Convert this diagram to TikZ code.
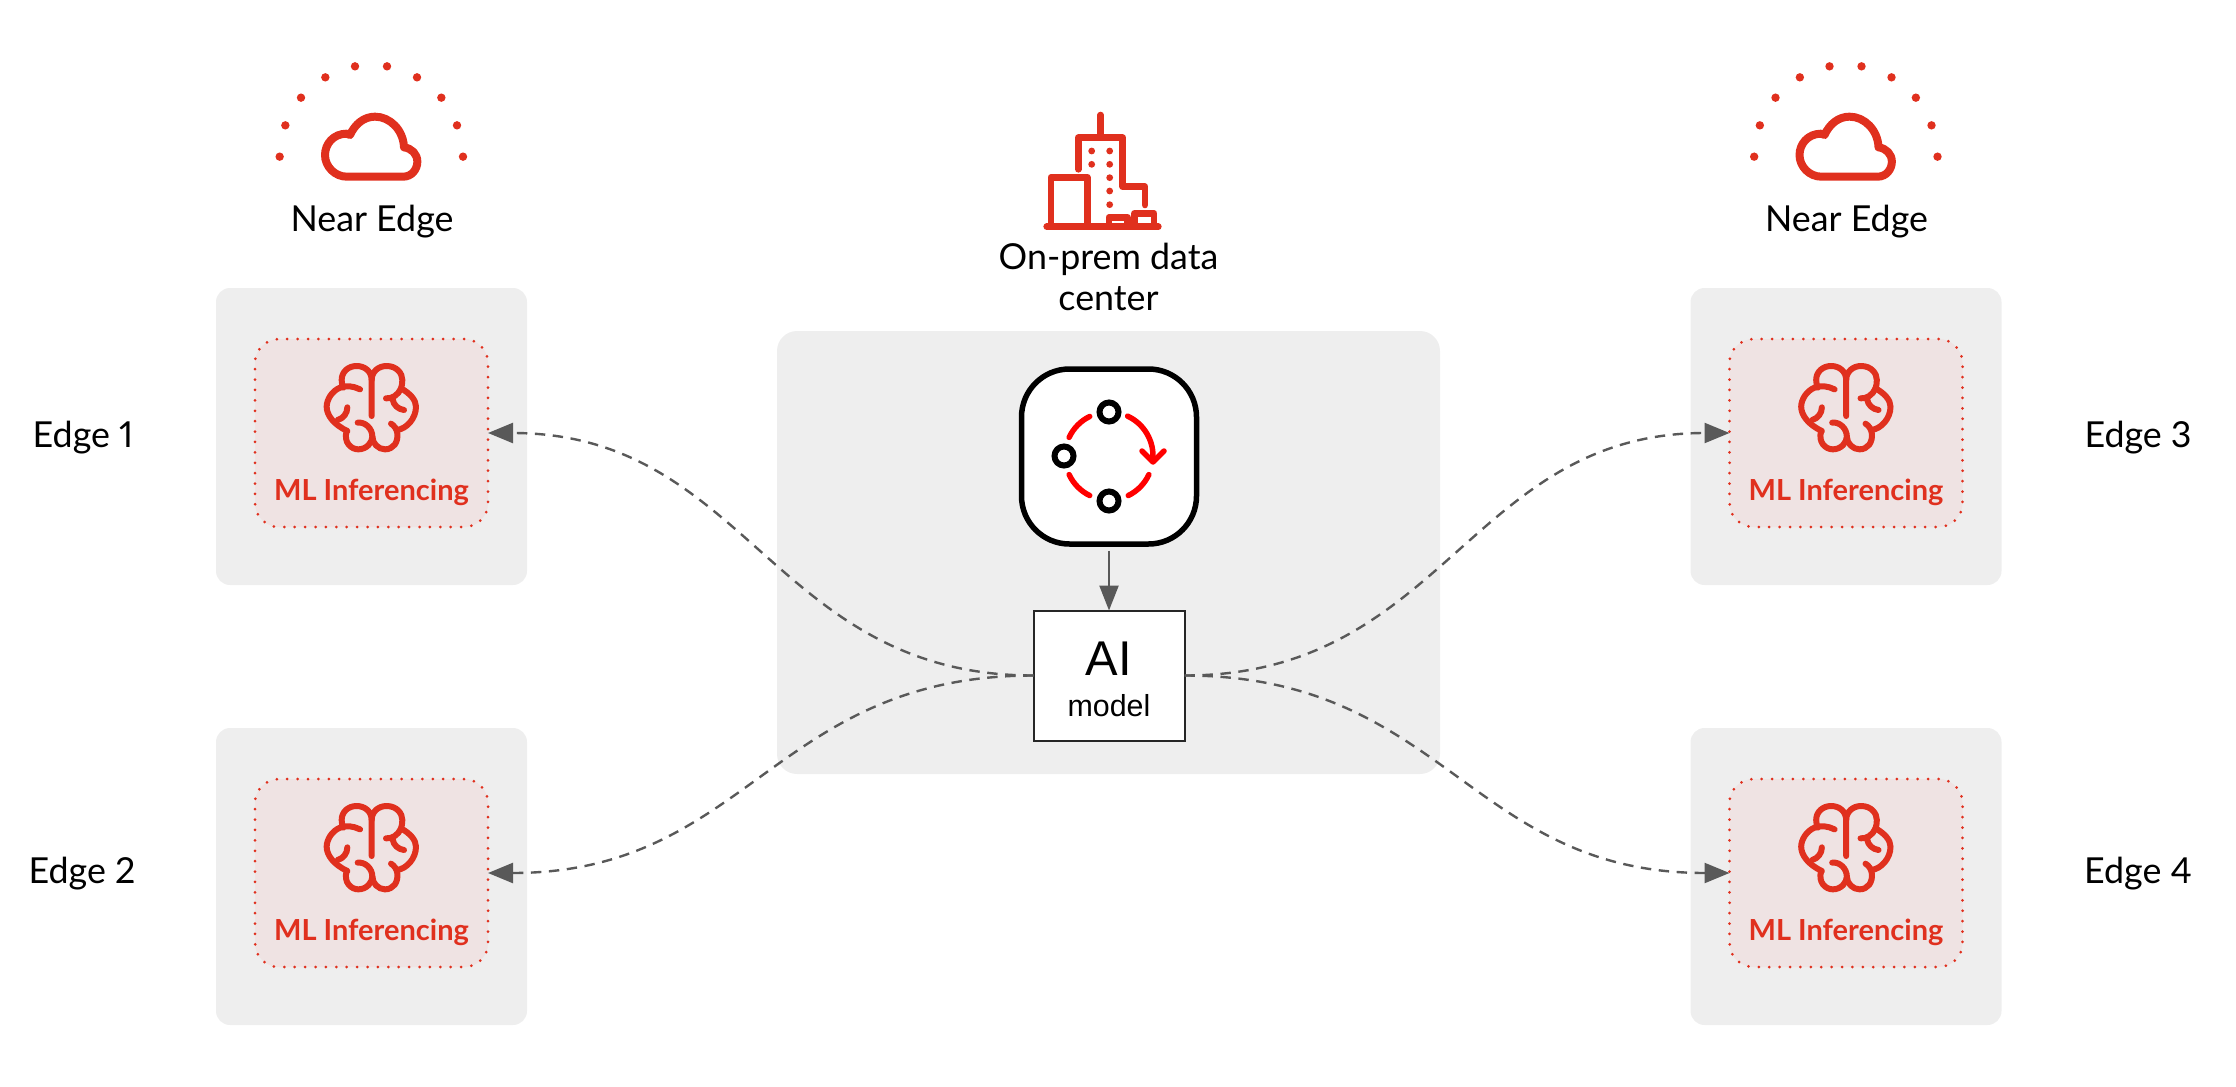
\documentclass[tikz,border=0pt]{standalone}
\usepackage{fontspec}
\setmainfont[Numbers=Proportional]{Lato}
\newfontfamily\arialfont{Liberation Sans}
\usetikzlibrary{arrows.meta}
\definecolor{rhred}{HTML}{E0301E}
\definecolor{panelgray}{HTML}{EEEEEE}
\definecolor{innerpink}{HTML}{EFE3E3}
\definecolor{linegray}{HTML}{595959}
\tikzset{
  panelbox/.style={fill=panelgray,draw=none,rounded corners=7pt,inner sep=0pt,outer sep=0pt},
  infbox/.style={fill=innerpink,draw=rhred,line width=1.5pt,line cap=round,dash pattern=on 0pt off 5.2pt,rounded corners=12pt,minimum width=116.5pt,minimum height=94pt,inner sep=0pt,outer sep=0pt},
  iconline/.style={draw=rhred,line cap=round,line join=round},
  widelabel/.style={font=\fontsize{17.9pt}{20.5pt}\selectfont,text=black,inner sep=0pt},
  inftext/.style={font=\fontsize{14.5pt}{17pt}\selectfont\bfseries,text=rhred,inner sep=0pt},
  flow/.style={draw=linegray,line width=1.2pt,dash pattern=on 5.2pt off 3.8pt,-{Triangle[length=12.5pt,width=10pt,fill=linegray]}},
  ringarc/.style={draw=red,line width=2.75pt,line cap=round,line join=round},
  ringnode/.style={circle,draw=black,fill=white,line width=3pt,minimum size=9.5pt,inner sep=0pt,outer sep=0pt},
}
% panel with inference box and brain
\newcommand{\infpanel}[3]{%
  \begin{scope}[shift={(#2,#3)}]
    \node[panelbox,minimum width=155.5pt,minimum height=148.5pt] (#1-panel) at (371.5,436.5) {};
    \node[infbox] (#1) at (371.5,433) {};
    \begin{scope}[shift={(315,355)},x=0.16667pt,y=-0.16667pt,iconline,line width=3pt]
      \draw (170,183) -- (170,75) .. controls (170,50) and (150,33) .. (125,33) .. controls (100,33) and (80,50) .. (80,75) .. controls (80,85) and (82,92) .. (85,98);
      \draw (135,103) .. controls (115,93) and (90,90) .. (75,98) .. controls (50,108) and (35,135) .. (35,155) .. controls (35,180) and (55,208) .. (97,228);
      \draw (97,157) .. controls (97,175) and (85,190) .. (68,195);
      \draw (95,228) .. controls (85,262) and (108,283) .. (130,283) .. controls (155,283) and (172,262) .. (172,245) .. controls (172,220) and (150,200) .. (128,203);
      \draw (172,245) .. controls (172,265) and (190,283) .. (210,283) .. controls (235,283) and (250,262) .. (247,235) .. controls (245,222) and (238,212) .. (228,206);
      \draw (170,75) .. controls (170,50) and (190,33) .. (215,33) .. controls (245,33) and (262,55) .. (262,75) .. controls (262,85) and (260,95) .. (258,100) .. controls (285,115) and (303,135) .. (303,155) .. controls (303,190) and (275,222) .. (245,225);
      \draw (213,130) .. controls (230,132) and (250,120) .. (258,100);
      \draw (233,133) .. controls (235,150) and (250,163) .. (267,165);
    \end{scope}
    \node[inftext] (#1-text) at (371.5,492) {ML Inferencing};
  \end{scope}%
}
% cloud with dots and Near Edge label
\newcommand{\nearedge}[2]{%
  \begin{scope}[shift={(#2,0)}]
    \begin{scope}[shift={(200,40)},x=0.16667pt,y=-0.16667pt]
      \draw[iconline,line width=4pt] (440,410) -- (610,410) .. controls (635,410) and (652,388) .. (652,365) .. controls (652,342) and (635,325) .. (612,322) .. controls (610,270) and (570,230) .. (525,230) .. controls (492,230) and (465,252) .. (450,285) .. controls (447,283) and (443,281) .. (440,281) .. controls (400,281) and (375,312) .. (375,345) .. controls (375,380) and (405,410) .. (440,410) -- cycle;
      \foreach \dx/\dy in {239/350,256/256,303/173,376/112,465/79,561/79,651/112,724/173,771/256,789/350}
        \fill[rhred] (\dx,\dy) circle[radius=2.1pt];
    \end{scope}
    \node[widelabel] (#1) at (372,222) {Near Edge};
  \end{scope}%
}
\begin{document}
\begin{tikzpicture}[x=0.5pt,y=-0.5pt]
\useasboundingbox (0,0) rectangle (2236,1086);

% panels
\node[panelbox,minimum width=331.5pt,minimum height=221.5pt,rounded corners=10pt] (dc) at (1108.5,552.5) {};
\infpanel{inf1}{0}{0}
\infpanel{inf2}{0}{440}
\infpanel{inf3}{1474.5}{0}
\infpanel{inf4}{1474.5}{440}

% near edge icons
\nearedge{ne1}{0}
\nearedge{ne2}{1474.5}

% building
\begin{scope}[shift={(980,100)},x=0.16667pt,y=-0.16667pt]
  \draw[iconline,line width=3.3pt] (362,45) -- (362,105);
  \draw[iconline,line width=3.3pt] (295,208) -- (295,113) -- (428,113) -- (428,260) -- (495,260) -- (495,315);
  \draw[iconline,line width=3.3pt] (213,380) -- (213,232) -- (322,232) -- (322,380);
  \draw[iconline,line width=3.3pt] (200,380) -- (535,380);
  \draw[iconline,line width=3.3pt] (387,380) -- (387,352) -- (443,352) -- (443,380);
  \draw[iconline,line width=3.3pt] (463,380) -- (463,340) -- (522,340) -- (522,380);
  \foreach \dx/\dy in {335/153,389/153,335/193,389/193,389/233,389/273,389/314}
    \fill[rhred] (\dx,\dy) circle[radius=1.7pt];
\end{scope}
\node[widelabel,align=center] (onprem) at (1108.5,277) {On-prem data\\center};

% edge labels
\node[widelabel] (e1) at (83,438) {Edge 1};
\node[widelabel] (e2) at (82,874) {Edge 2};
\node[widelabel] (e3) at (2138,438) {Edge 3};
\node[widelabel] (e4) at (2138,874) {Edge 4};

% pipeline icon box
\node[draw=black,fill=white,line width=2.75pt,rounded corners=24pt,minimum size=87.5pt,inner sep=0pt] (icon) at (1109,456.5) {};
\coordinate (ring) at (1109,456);
\draw[ringarc] ([shift={(65:22pt)}]ring) arc[start angle=65,end angle=-5,radius=22pt];
\draw[ringarc] ([shift={(116:22pt)}]ring) arc[start angle=116,end angle=155,radius=22pt];
\draw[ringarc] ([shift={(205:22pt)}]ring) arc[start angle=205,end angle=244,radius=22pt];
\draw[ringarc] ([shift={(296:22pt)}]ring) arc[start angle=296,end angle=335,radius=22pt];
\coordinate (tipl) at (1142,451);
\coordinate (tipm) at (1153,462);
\coordinate (tipr) at (1164,451);
\draw[ringarc] (tipl) -- (tipm) -- (tipr);
\node[ringnode] (r1) at (1109,412) {};
\node[ringnode] (r2) at (1064,456) {};
\node[ringnode] (r3) at (1109,501) {};

% AI model
\node[draw=black!85,fill=white,line width=1pt,minimum width=75.5pt,minimum height=65pt,inner sep=0pt,outer sep=0pt] (ai) at (1109,675.5) {};
\node[font=\arialfont\fontsize{24.4pt}{28pt}\selectfont,inner sep=0pt] (aitext) at (1109,659) {AI};
\node[font=\arialfont\fontsize{15.2pt}{18pt}\selectfont,inner sep=0pt] (modeltext) at (1109,706) {model};

% connectors
\draw[draw=linegray,line width=1.2pt,-{Triangle[length=12.5pt,width=9.5pt,fill=linegray]},shorten <=2pt] (icon.south) -- (ai.north);
\draw[flow] (ai.west) .. controls +(-260,0) and +(260,0) .. (inf1.east);
\draw[flow] (ai.west) .. controls +(-260,0) and +(260,0) .. (inf2.east);
\draw[flow] (ai.east) .. controls +(260,0) and +(-260,0) .. (inf3.west);
\draw[flow] (ai.east) .. controls +(260,0) and +(-260,0) .. (inf4.west);
\end{tikzpicture}
\end{document}
